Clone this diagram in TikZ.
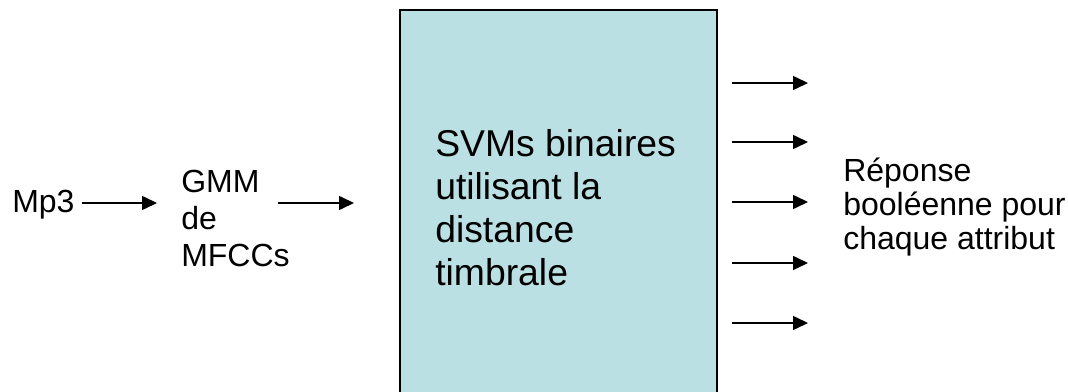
\documentclass[tikz,border=0pt]{standalone}
\usepackage{fontspec}
\setmainfont{Liberation Sans}
\usetikzlibrary{arrows.meta}
\definecolor{svmfill}{RGB}{186,224,227}
\tikzset{
  lbl/.style={anchor=base west, inner sep=0pt, font=\fontsize{24}{28}\selectfont},
  biglbl/.style={anchor=base west, inner sep=0pt, font=\fontsize{28}{32}\selectfont},
  flow/.style={line width=1.2pt, -{Triangle[length=11.25pt, width=10.5pt]}},
  svmbox/.style={draw=black, line width=1.5pt, fill=svmfill}
}
\begin{document}
\begin{tikzpicture}[x=0.75pt, y=-0.75pt]
  \clip (0,0) rectangle (1068,392);
  \fill[white] (0,0) rectangle (1068,392);

  % classifier block (runs past the lower edge)
  \draw[svmbox] (400,10) rectangle (717,420);
  \node[biglbl] (svm1) at (435,157) {SVMs binaires};
  \node[biglbl] (svm2) at (435,200) {utilisant la};
  \node[biglbl] (svm3) at (435,243) {distance};
  \node[biglbl] (svm4) at (435,286) {timbrale};

  % input side
  \node[lbl] (mp3) at (12,213) {Mp3};
  \node[lbl] (gmm1) at (181,193) {GMM};
  \node[lbl] (gmm2) at (181,230) {de};
  \node[lbl] (gmm3) at (181,267) {MFCCs};

  \coordinate (a1s) at (82,203);  \coordinate (a1e) at (157,203);
  \coordinate (a2s) at (278,203); \coordinate (a2e) at (354,203);
  \draw[flow] (a1s) -- (a1e);
  \draw[flow] (a2s) -- (a2e);

  % output side
  \foreach \k/\y in {1/83, 2/142, 3/202, 4/263, 5/323} {
    \coordinate (o\k s) at (732,\y);
    \coordinate (o\k e) at (808,\y);
    \draw[flow] (o\k s) -- (o\k e);
  }
  \node[lbl] (rep1) at (843,182) {Réponse};
  \node[lbl] (rep2) at (843,216) {booléenne pour};
  \node[lbl] (rep3) at (843,250) {chaque attribut};
\end{tikzpicture}
\end{document}
